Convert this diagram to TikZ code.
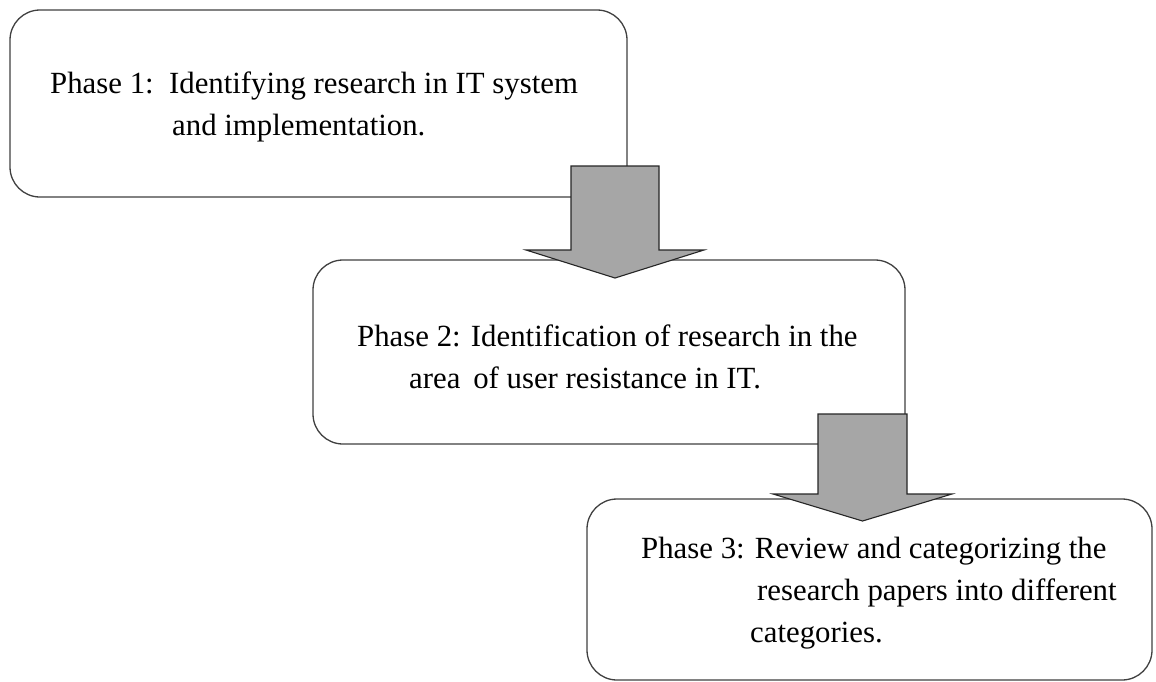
\documentclass[tikz,border=0pt]{standalone}
\usepackage{fontspec}
\setmainfont{Liberation Serif}
\definecolor{boxline}{HTML}{404040}
\definecolor{arrowfill}{HTML}{A6A6A6}
\tikzset{
  phasebox/.style={draw=boxline, line width=1.3pt, rounded corners=30pt, fill=white},
  blockarrow/.style={draw=black!85, line width=1.1pt, fill=arrowfill, line join=miter},
  txt/.style={anchor=base west, inner sep=0pt, font=\fontsize{30.8}{36}\selectfont, text=black}
}
\begin{document}
\begin{tikzpicture}[x=1pt,y=-1pt]
\useasboundingbox (0,0) rectangle (1156,681);
\clip (0,0) rectangle (1156,681);
% boxes
\draw[phasebox] (10,10) rectangle (627,197);
\node[inner sep=0pt, minimum width=617pt, minimum height=187pt] (b1) at (318.5,103.5) {};
\draw[phasebox] (313,260) rectangle (905,444);
\node[inner sep=0pt, minimum width=592pt, minimum height=184pt] (b2) at (609,352) {};
\draw[phasebox] (587,499) rectangle (1152,680);
\node[inner sep=0pt, minimum width=565pt, minimum height=181pt] (b3) at (869.5,589.5) {};
% texts
\node[txt] (t1a) at (50,93) {Phase 1:\ \ Identifying research in IT system};
\node[txt] (t1b) at (172,135) {and implementation.};
\node[txt] (t2a) at (357,346) {Phase 2: Identification of research in the};
\node[txt] (t2b) at (409,388) {area\, of user resistance in IT.};
\node[txt] (t3a) at (641,558) {Phase 3: Review and categorizing the};
\node[txt] (t3b) at (757,600) {research papers into different};
\node[txt] (t3c) at (750,642) {categories.};
% block arrows
\draw[blockarrow] (571,166) -- (659,166) -- (659,250) -- (704,250) -- (615,278) -- (526,250) -- (571,250) -- cycle;
\draw[blockarrow] (818,414) -- (907,414) -- (907,494) -- (952,494) -- (862.5,521) -- (773,494) -- (818,494) -- cycle;
\end{tikzpicture}
\end{document}
